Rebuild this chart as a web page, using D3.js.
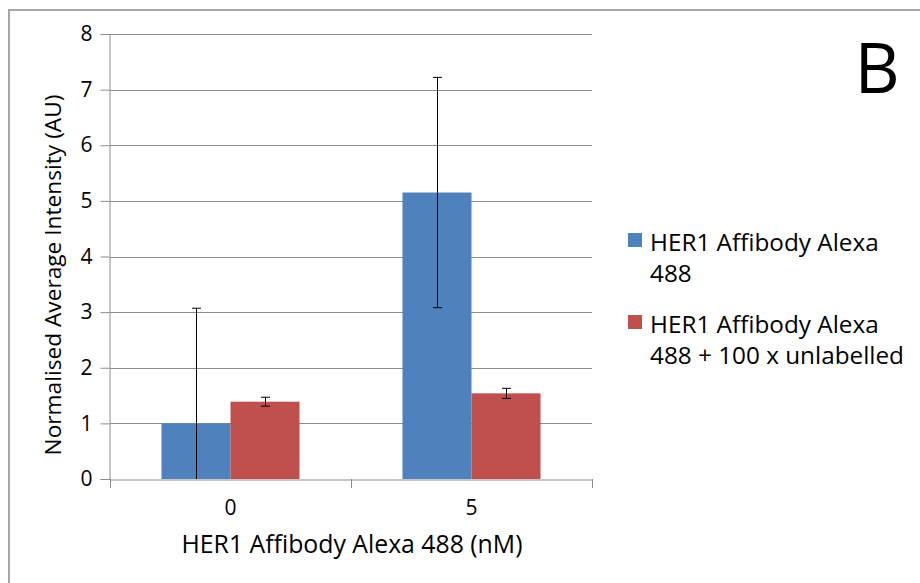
<!DOCTYPE html>
<html>
<head>
<meta charset="utf-8">
<script src="https://cdn.jsdelivr.net/npm/d3@7"></script>
<style>
  body { margin: 0; background: #fff; }
  svg { display: block; font-family: "Open Sans", sans-serif; }
</style>
</head>
<body>
<svg id="chart" width="920" height="583"></svg>
<script>
// chart data
const categories = ["0", "5"];
const seriesNames = ["HER1 Affibody Alexa 488", "HER1 Affibody Alexa 488 + 100 x unlabelled"];
const legendLines = [["HER1 Affibody Alexa", "488"], ["HER1 Affibody Alexa", "488 + 100 x unlabelled"]];
const blueValues = [1.0, 5.15];
const blueErrors = [2.07, 2.07];
const redValues = [1.39, 1.54];
const redErrors = [0.08, 0.09];
const yTicks = [0, 1, 2, 3, 4, 5, 6, 7, 8];
const colors = ["#4f81bd", "#c0504d"];

const rows = categories.map((c, i) => ({
  cat: c,
  bars: [
    { s: 0, v: blueValues[i], e: blueErrors[i] },
    { s: 1, v: redValues[i], e: redErrors[i] }
  ]
}));

const svg = d3.select("#chart");

// outer frame
svg.append("rect")
  .attr("x", 9).attr("y", 10)
  .attr("width", 930).attr("height", 600)
  .attr("fill", "none")
  .attr("stroke", "#a6a6a6")
  .attr("stroke-width", 2);

const margin = { top: 34, left: 110, bottom: 479, right: 592 };

const x0 = d3.scaleBand()
  .domain(categories)
  .range([margin.left, margin.right]);

const x1 = d3.scaleBand()
  .domain([0, 1])
  .range([0, x0.bandwidth()])
  .paddingOuter(0.746);

const y = d3.scaleLinear()
  .domain([0, 8])
  .range([margin.bottom, margin.top]);

// gridlines
svg.append("g")
  .selectAll("line")
  .data(yTicks.filter(d => d > 0))
  .join("line")
  .attr("x1", margin.left).attr("x2", margin.right)
  .attr("y1", d => Math.round(y(d)) + 0.5).attr("y2", d => Math.round(y(d)) + 0.5)
  .attr("stroke", "#8c8c8c")
  .attr("stroke-width", 1);

// bars
const groups = svg.append("g")
  .selectAll("g")
  .data(rows)
  .join("g")
  .attr("transform", d => `translate(${x0(d.cat)},0)`);

groups.selectAll("rect")
  .data(d => d.bars)
  .join("rect")
  .attr("x", d => x1(d.s))
  .attr("width", x1.bandwidth())
  .attr("y", d => y(d.v))
  .attr("height", d => y(0) - y(d.v))
  .attr("fill", d => colors[d.s]);

// error bars
const err = groups.selectAll("g.err")
  .data(d => d.bars)
  .join("g")
  .attr("class", "err")
  .attr("transform", d => `translate(${Math.round(x1(d.s) + x1.bandwidth() / 2) + 0.5},0)`);

err.append("line")
  .attr("y1", d => y(d.v + d.e))
  .attr("y2", d => y(Math.max(0, d.v - d.e)))
  .attr("stroke", "#000");

err.append("line")
  .attr("x1", -4.5).attr("x2", 4.5)
  .attr("y1", d => y(d.v + d.e)).attr("y2", d => y(d.v + d.e))
  .attr("stroke", "#000");

err.filter(d => d.v - d.e > 0).append("line")
  .attr("x1", -4.5).attr("x2", 4.5)
  .attr("y1", d => y(d.v - d.e)).attr("y2", d => y(d.v - d.e))
  .attr("stroke", "#000");

// y axis
const yAxis = svg.append("g")
  .attr("transform", `translate(${margin.left - 0.5},0)`)
  .call(d3.axisLeft(y).tickValues(yTicks).tickSize(9).tickPadding(8));
yAxis.selectAll("path, line").attr("stroke", "#8c8c8c");
yAxis.selectAll("text").attr("font-size", 21).attr("font-family", "Open Sans").attr("fill", "#000");

// x axis
const xAxis = svg.append("g")
  .attr("transform", `translate(0,${margin.bottom + 0.5})`)
  .call(d3.axisBottom(x0).tickSize(0).tickPadding(21));
xAxis.select("path").attr("stroke", "#8c8c8c");
xAxis.selectAll("text").attr("font-size", 21).attr("font-family", "Open Sans").attr("fill", "#000");

// tick marks between categories
const bounds = [margin.left, x0(categories[1]), margin.right];
svg.append("g")
  .selectAll("line")
  .data(bounds)
  .join("line")
  .attr("x1", d => Math.round(d) + 0.5).attr("x2", d => Math.round(d) + 0.5)
  .attr("y1", margin.bottom).attr("y2", margin.bottom + 9)
  .attr("stroke", "#8c8c8c");

// axis titles
svg.append("text")
  .attr("transform", `translate(61,275) rotate(-90)`)
  .attr("text-anchor", "middle")
  .attr("font-size", 22.7)
  .text("Normalised Average Intensity (AU)");

svg.append("text")
  .attr("x", 352)
  .attr("y", 553)
  .attr("text-anchor", "middle")
  .attr("font-size", 24.8)
  .text("HER1 Affibody Alexa 488 (nM)");

// panel letter
svg.append("text")
  .attr("x", 877).attr("y", 93)
  .attr("text-anchor", "middle")
  .attr("font-size", 70)
  .text("B");

// legend
const legend = svg.append("g")
  .selectAll("g")
  .data(seriesNames)
  .join("g")
  .attr("transform", (d, i) => `translate(628,${233 + i * 82})`);

legend.append("rect")
  .attr("width", 14).attr("height", 14)
  .attr("fill", (d, i) => colors[i]);

legend.append("text")
  .attr("x", 22)
  .attr("font-size", 24.3)
  .selectAll("tspan")
  .data((d, i) => legendLines[i])
  .join("tspan")
  .attr("x", 22)
  .attr("y", (d, j) => 18 + j * 31)
  .text(d => d);
</script>
</body>
</html>
